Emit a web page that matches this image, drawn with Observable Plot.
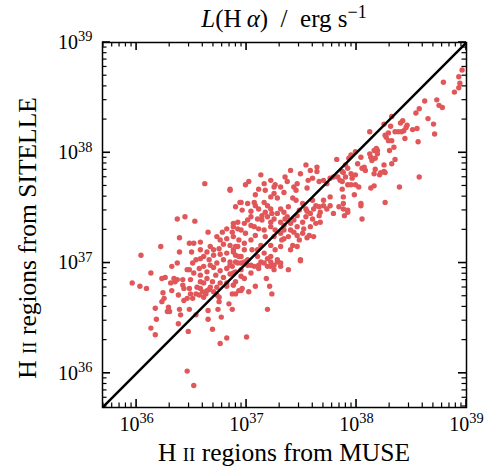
<!DOCTYPE html>
<html><head><meta charset="utf-8">
<script src="https://cdn.jsdelivr.net/npm/d3@7"></script>
<script src="https://cdn.jsdelivr.net/npm/@observablehq/plot@0.6"></script>
<style>html,body{margin:0;padding:0;background:#fff} svg{display:block}</style>
</head><body><div id="chart"></div>
<script>
// log10 L(Halpha) pairs: [MUSE, SITELLE]
const faintRegions = [
[35.96,36.82],[36.03,36.79],[36.09,36.77],[36.04,37.07],[36.13,36.91],[36.22,37.15],[36.23,36.86],[36.26,36.87],
[36.24,36.73],[36.25,36.68],[36.23,36.65],[36.17,36.59],[36.29,36.60],[36.28,36.56],[36.30,36.56],[36.18,36.49],
[36.13,36.41],[36.17,36.35],[36.38,36.45],[36.47,36.38],[36.39,36.58],[36.40,36.53],[36.48,36.58],[36.54,36.53],
[36.46,36.02],[36.52,35.89],[36.65,36.57],[36.65,36.49],[36.74,36.58],[36.77,36.51],[36.69,36.40],[36.76,36.27],
[36.82,36.32],[36.84,36.63],[37.00,36.33],[37.19,36.58],[36.87,36.58]
];
const midRegions = [
[36.37,37.40],[36.44,37.42],[36.53,37.38],[36.62,37.72],[36.85,37.67],[36.94,37.55],[36.65,37.28],[36.39,37.23],
[36.48,37.18],[36.52,37.18],[36.58,37.19],[36.39,37.10],[36.50,37.10],[36.37,37.00],[36.32,36.97],[36.34,36.86],
[36.37,36.85],[36.46,36.94],[36.32,36.75],[36.31,36.82],[36.35,36.83],[36.42,36.80],[36.43,36.77],[36.48,36.77],
[36.49,36.72],[36.46,36.68],[36.43,36.66],[36.38,36.71],[36.51,36.68],[36.55,36.78],[36.58,36.83],[36.60,36.74],
[36.63,36.72],[36.64,36.75],[36.67,36.78],[36.70,36.74],[36.73,36.71],[36.76,36.82],[36.82,36.82],[36.88,36.80],
[36.90,36.72],[36.93,36.75],[36.57,36.71],[36.54,36.72],[36.61,36.69],[36.75,36.69],[36.75,36.65],[36.42,36.85],
[36.58,37.12],[36.85,36.98],[36.90,37.01],[36.95,37.00],[36.98,37.01],[37.01,36.98],[37.07,36.97],[37.11,36.98],
[37.13,37.01],[37.19,36.97],[37.22,37.01],[37.25,36.98],[37.28,37.01],[37.31,37.00],[37.38,36.94],[37.49,37.02],
[36.88,36.91],[36.95,36.88],[36.98,36.86],[37.04,36.91],[37.11,36.95],[37.25,36.94],[36.88,36.80],[36.87,36.72],
[36.95,36.75],[36.96,36.77],[37.02,36.74],[37.08,36.79],[37.18,36.86],[37.21,36.79],[37.23,36.72],
[36.88,37.36],[36.92,37.31],[36.87,37.28],[36.82,37.31],[36.78,37.28],[36.73,37.24],[36.76,37.21],[36.82,37.22],
[36.88,37.24],[36.93,37.21],[36.90,37.15],[36.85,37.16],[36.79,37.17],[36.75,37.13],[36.70,37.12],[36.67,37.15],
[36.64,37.10],[36.61,37.06],[36.58,37.04],[36.66,37.03],[36.70,37.07],[36.76,37.08],[36.82,37.09],[36.88,37.10],
[36.93,37.06],[36.85,37.01],[36.79,37.03],[36.73,37.00],[36.67,36.98],[36.61,36.97],[36.57,36.95],[36.64,36.92],
[36.70,36.96],[36.76,36.93],[36.82,36.95],[36.90,36.92],[36.58,36.89],[36.64,36.86],[36.72,36.89],[36.79,36.87],
[36.85,36.90],[36.61,36.82],[36.69,36.83],[36.82,36.79],[36.90,36.83],[36.58,36.77],[36.66,36.76],[36.73,36.78],
[36.49,36.85],[36.52,36.91],[36.48,36.94],[36.51,37.00],[36.54,37.03]
];
const coreRegions = [
[37.82,37.94],[37.90,37.89],[37.87,37.83],[37.83,37.78],[37.85,37.75],[37.76,37.77],[37.79,37.78],[37.73,37.72],
[37.70,37.75],[37.64,37.83],[37.66,37.74],[37.58,37.84],[37.60,37.77],[37.56,37.75],[37.49,37.81],[37.55,37.68],
[37.46,37.72],[37.43,37.69],[37.35,37.78],[37.37,37.74],[37.31,37.69],[37.34,37.64],[37.25,37.63],[37.28,37.59],
[37.16,37.72],[37.02,37.74],[36.99,37.71],[37.11,37.67],[36.95,37.55],[37.01,37.54],[37.07,37.55],[37.08,37.52],
[37.16,37.55],[37.19,37.52],[37.22,37.49],[37.17,37.46],[37.42,37.59],[37.45,37.57],[37.51,37.54],[37.54,37.49],
[37.60,37.57],[37.63,37.52],[37.70,37.57],[37.76,37.60],[37.88,37.49],[37.92,37.46],[37.76,37.52],[37.73,37.49],
[37.67,37.46],[37.66,37.43],[37.58,37.45],[37.60,37.40],[37.54,37.42],[37.51,37.37],[37.46,37.43],[37.43,37.39],
[37.40,37.36],[37.35,37.40],[37.34,37.34],[37.28,37.45],[37.25,37.40],[37.19,37.42],[37.14,37.39],[37.10,37.40],
[37.04,37.42],[37.01,37.39],[36.98,37.36],[36.92,37.37],[36.88,37.33],[37.07,37.33],[37.11,37.31],[37.16,37.30],
[37.22,37.33],[37.26,37.30],[37.31,37.27],[37.34,37.22],[37.43,37.28],[37.46,37.25],[37.55,37.23],[37.61,37.24],
[37.40,37.12],[37.49,37.03],[37.13,37.16],[37.22,37.16],[37.04,37.21],[36.98,37.18],[36.92,37.15],[36.88,37.12],
[37.10,37.12],[37.16,37.09],[37.22,37.06],[37.28,37.03],[37.31,36.97],[36.95,37.06],[37.01,37.03],[36.92,37.00],
[36.87,36.97],[37.16,37.00],[37.22,36.97],[36.85,37.66],
[36.90,37.51],[36.96,37.48],[37.04,37.47],[37.11,37.49],[37.14,37.43],[37.23,37.45],[37.31,37.49],[37.34,37.46],
[37.38,37.51],[37.48,37.48],[37.55,37.47],[37.61,37.49],[37.66,37.51],[37.70,37.52],[37.79,37.45],[37.84,37.51],
[37.37,37.42],[37.31,37.37],[37.22,37.37],[37.04,37.34],[36.95,37.30],[36.99,37.27],[37.08,37.25],[37.17,37.24],
[37.25,37.24],[37.32,37.21],[37.38,37.24],[37.48,37.21],[37.42,37.16],[37.31,37.15],[37.26,37.12],[37.05,37.12],
[36.98,37.12],[36.90,37.07],[37.10,37.06],[37.19,37.04],[37.04,36.98],[36.95,36.94],[37.46,37.15],[37.52,37.31],
[37.58,37.33],[37.63,37.36],[37.67,37.37],[37.57,37.25],[37.51,37.27],[37.40,37.30],[37.46,37.33],[37.34,37.30],
[37.13,37.80],[37.22,37.75],[37.40,37.84],[37.54,37.89],[37.45,37.66],[37.26,37.71],[37.08,37.62],[37.17,37.66],
[37.22,37.60],[37.25,37.69],[37.64,37.87]
];
const brightRegions = [
[37.90,37.78],[37.95,37.81],[37.99,37.80],[37.96,37.77],[37.87,37.74],[37.92,37.71],[37.95,37.71],[37.99,37.71],
[38.02,37.69],[37.87,37.67],[37.88,37.60],[37.88,37.54],[37.92,37.48],[37.89,37.43],[37.98,37.62],[38.04,37.54],
[38.04,37.52],[38.05,37.40],[38.13,37.68],[38.16,37.70],[38.26,37.55],[38.39,37.69],[38.57,37.78],[38.16,37.81],
[38.21,37.80],[38.25,37.83],[38.08,37.84],[38.96,38.75],[38.93,38.69],[38.94,38.63],[38.93,38.59],[38.89,38.55],
[38.79,38.64],[38.62,38.47],[38.73,38.48],[38.75,38.43],[38.78,38.41],[38.57,38.40],[38.54,38.36],[38.65,38.31],
[38.70,38.26],[38.71,38.17],[38.55,38.22],[38.51,38.21],[38.56,38.10],[38.45,38.23],[38.46,38.25],[38.42,38.29],
[38.40,38.27],[38.43,38.20],[38.41,38.19],[38.32,38.33],[38.35,38.19],[38.38,38.19],[38.44,38.13],[38.31,38.24],
[38.29,38.18],[38.25,38.26],[38.12,38.19],[38.26,38.16],[38.27,38.14],[38.32,38.11],[38.29,38.11],[38.34,38.05],
[38.30,38.02],[38.18,38.04],[38.16,38.02],[38.19,38.02],[38.12,37.99],[38.13,37.96],[38.14,37.93],[38.17,37.95],
[38.19,37.99],[37.99,38.01],[38.04,37.96],[38.35,37.94],[38.32,37.90],[38.25,37.89],[38.17,37.85],[38.07,37.87],
[38.05,37.86],[38.01,37.90],[37.93,37.95],[37.95,37.98],[37.92,37.86],[37.88,37.82],[38.22,37.82],[38.26,37.82]
];
const tickExponents = [36, 37, 38, 39];
const axisLow = 35.69, axisHigh = 39;

const W = 496, H = 470, mL = 102, mR = 30, mT = 42, mB = 63;
const fw = W - mL - mR, fh = H - mT - mB;
const lo = 10 ** axisLow, hi = 10 ** axisHigh;
const points = [...faintRegions, ...midRegions, ...coreRegions, ...brightRegions]
  .map(([m, s]) => ({muse: 10 ** m, sitelle: 10 ** s}));
const major = tickExponents.map(e => 10 ** e);
const minor = [];
for (let e = 35; e < 39; e++) for (let k = 2; k < 10; k++) {
  const v = k * 10 ** e; if (v > lo && v < hi) minor.push(v);
}
const font = "'Liberation Serif', 'DejaVu Serif', serif";
const expFmt = d => String(Math.round(Math.log10(d)));

const plot = Plot.plot({
  width: W, height: H, marginLeft: mL, marginRight: mR, marginTop: mT, marginBottom: mB,
  style: {fontFamily: font, fontSize: "20px", color: "#000", background: "#fff", overflow: "visible"},
  x: {type: "log", domain: [lo, hi]},
  y: {type: "log", domain: [lo, hi]},
  marks: [
    Plot.dot(points, {x: "muse", y: "sitelle", r: 2.7, fill: "#e15759", stroke: "none"}),
    Plot.line([{v: lo}, {v: hi}], {x: "v", y: "v", stroke: "#000", strokeWidth: 2.5, clip: true}),
    Plot.frame({stroke: "#000", strokeWidth: 1.5}),
    Plot.axisX({ticks: major, anchor: "bottom", tickSize: 0, tickPadding: 9, tickFormat: expFmt, label: null, fontSize: 20}),
    Plot.axisY({ticks: major, anchor: "left", tickSize: 0, tickPadding: 10, tickFormat: expFmt, label: null, fontSize: 20})
  ]
});

const svg = d3.select(plot);
svg.selectAll('g[aria-label="x-axis tick label"] text, g[aria-label="y-axis tick label"] text').each(function () {
  const e = this.textContent;
  const t = d3.select(this);
  t.text(null);
  t.append("tspan").text("10");
  t.append("tspan").attr("dy", "-0.52em").attr("font-size", "0.72em").text(e);
});

// inward ticks on all four sides, positioned with the plot's own scales
const xs = plot.scale("x"), ys = plot.scale("y");
const fLeft = mL, fRight = W - mR, fTop = mT, fBottom = H - mB;
const ticksG = svg.append("g").attr("fill", "none");
for (const [vals, len, sw] of [[major, 8, 1.6], [minor, 4.5, 1.2]]) {
  for (const v of vals) {
    const px = xs.apply(v);
    const py = ys.apply(v);
    const seg = (x1, y1, x2, y2) => ticksG.append("line")
      .attr("x1", x1).attr("y1", y1).attr("x2", x2).attr("y2", y2)
      .attr("stroke", "#000").attr("stroke-width", sw);
    seg(px, fBottom, px, fBottom - len);
    seg(px, fTop, px, fTop + len);
    seg(fLeft, py, fLeft + len, py);
    seg(fRight, py, fRight - len, py);
  }
}

const cx = mL + fw / 2;
const title = svg.append("text").attr("x", cx).attr("y", 27).attr("text-anchor", "middle")
  .attr("font-family", font).attr("font-size", 25).attr("fill", "#000");
title.append("tspan").attr("font-style", "italic").text("L");
title.append("tspan").text("(H\u2009");
title.append("tspan").attr("font-style", "italic").text("α");
title.append("tspan").text(")  /  erg s");
title.append("tspan").attr("dy", "-0.5em").attr("font-size", "0.72em").text("−1");

function regionLabel(sel, tail) {
  sel.append("tspan").text("H ");
  sel.append("tspan").attr("font-size", "0.74em").text("II");
  sel.append("tspan").text(" regions from " + tail);
}
const xl = svg.append("text").attr("x", cx).attr("y", 461).attr("text-anchor", "middle")
  .attr("font-family", font).attr("font-size", 25.5).attr("fill", "#000");
regionLabel(xl, "MUSE");
const yl = svg.append("text").attr("transform", `translate(36,238) rotate(-90)`).attr("text-anchor", "middle")
  .attr("font-family", font).attr("font-size", 25.5).attr("fill", "#000");
regionLabel(yl, "SITELLE");

document.getElementById("chart").appendChild(plot);
</script>
</body></html>
